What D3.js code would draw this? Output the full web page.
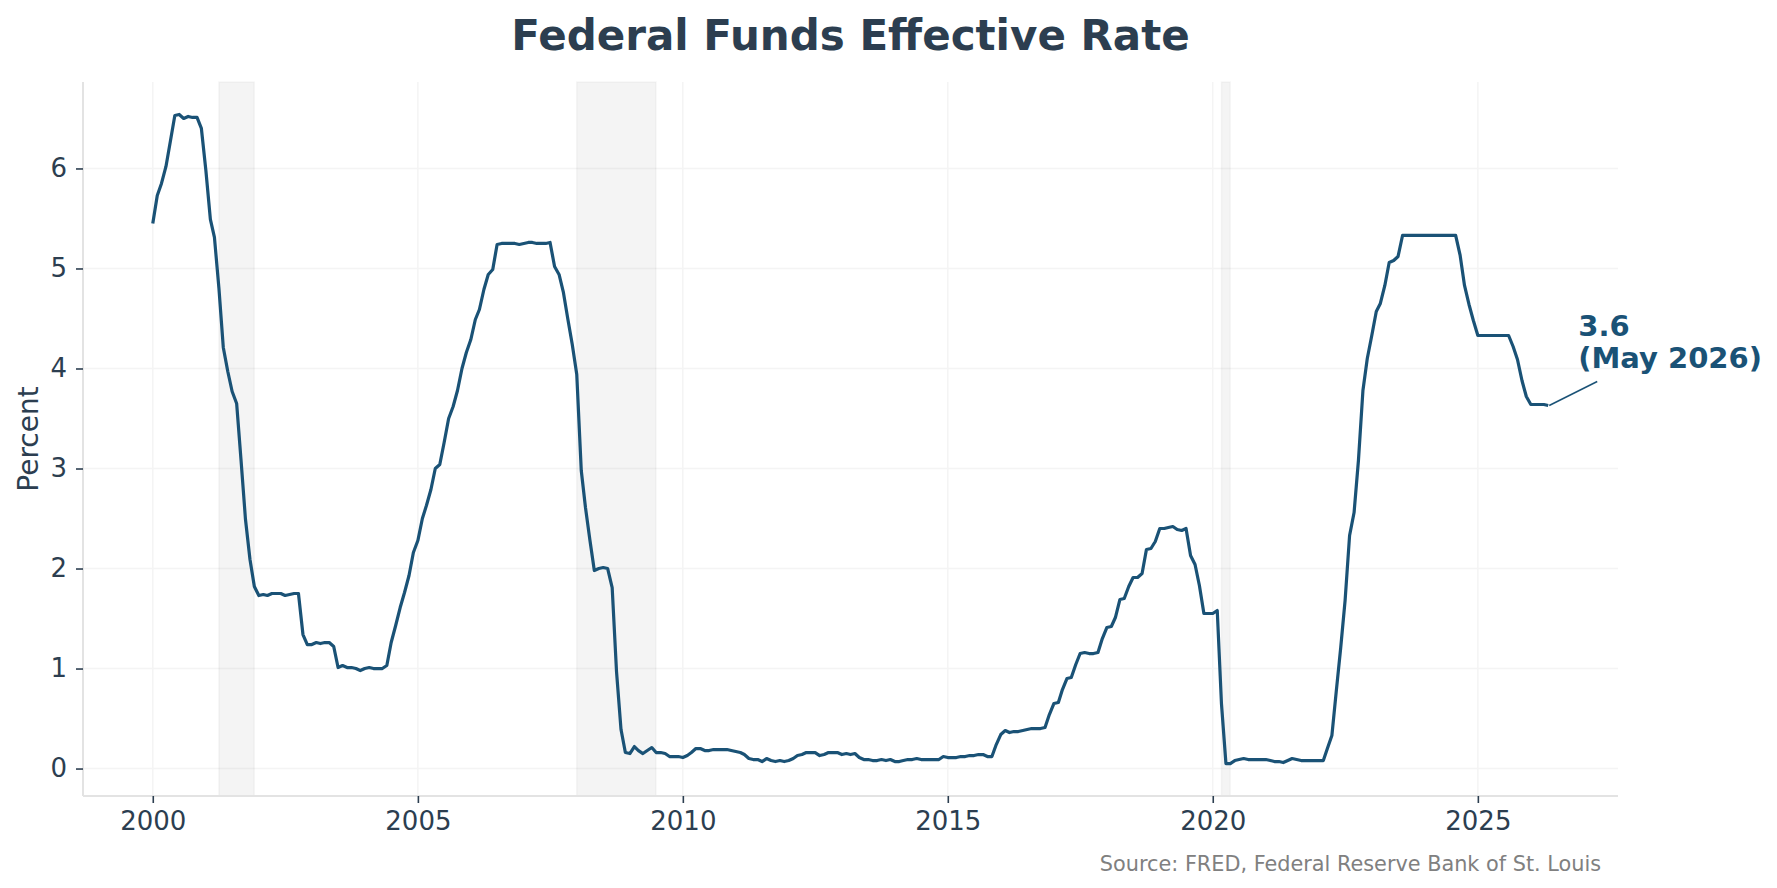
<!DOCTYPE html>
<html>
<head>
<meta charset="utf-8">
<script src="https://cdn.jsdelivr.net/npm/d3@7"></script>
<style>
  html, body { margin: 0; padding: 0; background: #ffffff; }
  svg { display: block; font-family: "DejaVu Sans", sans-serif; }
</style>
</head>
<body>
<svg id="chart" width="1777" height="888"></svg>
<script>
// ---- Data: monthly Federal Funds Effective Rate (percent), Jan 2000 .. May 2026 ----
const startMonth = "2000-01-01";
const rates = [
  // 2000
  5.45, 5.73, 5.85, 6.02, 6.27, 6.53, 6.54, 6.50, 6.52, 6.51, 6.51, 6.40,
  // 2001
  5.98, 5.49, 5.31, 4.80, 4.21, 3.97, 3.77, 3.65, 3.07, 2.49, 2.09, 1.82,
  // 2002
  1.73, 1.74, 1.73, 1.75, 1.75, 1.75, 1.73, 1.74, 1.75, 1.75, 1.34, 1.24,
  // 2003
  1.24, 1.26, 1.25, 1.26, 1.26, 1.22, 1.01, 1.03, 1.01, 1.01, 1.00, 0.98,
  // 2004
  1.00, 1.01, 1.00, 1.00, 1.00, 1.03, 1.26, 1.43, 1.61, 1.76, 1.93, 2.16,
  // 2005
  2.28, 2.50, 2.63, 2.79, 3.00, 3.04, 3.26, 3.50, 3.62, 3.78, 4.00, 4.16,
  // 2006
  4.29, 4.49, 4.59, 4.79, 4.94, 4.99, 5.24, 5.25, 5.25, 5.25, 5.25, 5.24,
  // 2007
  5.25, 5.26, 5.26, 5.25, 5.25, 5.25, 5.26, 5.02, 4.94, 4.76, 4.49, 4.24,
  // 2008
  3.94, 2.98, 2.61, 2.28, 1.98, 2.00, 2.01, 2.00, 1.81, 0.97, 0.39, 0.16,
  // 2009
  0.15, 0.22, 0.18, 0.15, 0.18, 0.21, 0.16, 0.16, 0.15, 0.12, 0.12, 0.12,
  // 2010
  0.11, 0.13, 0.16, 0.20, 0.20, 0.18, 0.18, 0.19, 0.19, 0.19, 0.19, 0.18,
  // 2011
  0.17, 0.16, 0.14, 0.10, 0.09, 0.09, 0.07, 0.10, 0.08, 0.07, 0.08, 0.07,
  // 2012
  0.08, 0.10, 0.13, 0.14, 0.16, 0.16, 0.16, 0.13, 0.14, 0.16, 0.16, 0.16,
  // 2013
  0.14, 0.15, 0.14, 0.15, 0.11, 0.09, 0.09, 0.08, 0.08, 0.09, 0.08, 0.09,
  // 2014
  0.07, 0.07, 0.08, 0.09, 0.09, 0.10, 0.09, 0.09, 0.09, 0.09, 0.09, 0.12,
  // 2015
  0.11, 0.11, 0.11, 0.12, 0.12, 0.13, 0.13, 0.14, 0.14, 0.12, 0.12, 0.24,
  // 2016
  0.34, 0.38, 0.36, 0.37, 0.37, 0.38, 0.39, 0.40, 0.40, 0.40, 0.41, 0.54,
  // 2017
  0.65, 0.66, 0.79, 0.90, 0.91, 1.04, 1.15, 1.16, 1.15, 1.15, 1.16, 1.30,
  // 2018
  1.41, 1.42, 1.51, 1.69, 1.70, 1.82, 1.91, 1.91, 1.95, 2.19, 2.20, 2.27,
  // 2019
  2.40, 2.40, 2.41, 2.42, 2.39, 2.38, 2.40, 2.13, 2.04, 1.83, 1.55, 1.55,
  // 2020
  1.55, 1.58, 0.65, 0.05, 0.05, 0.08, 0.09, 0.10, 0.09, 0.09, 0.09, 0.09,
  // 2021
  0.09, 0.08, 0.07, 0.07, 0.06, 0.08, 0.10, 0.09, 0.08, 0.08, 0.08, 0.08,
  // 2022
  0.08, 0.08, 0.20, 0.33, 0.77, 1.21, 1.68, 2.33, 2.56, 3.08, 3.78, 4.10,
  // 2023
  4.33, 4.57, 4.65, 4.83, 5.06, 5.08, 5.12, 5.33, 5.33, 5.33, 5.33, 5.33,
  // 2024
  5.33, 5.33, 5.33, 5.33, 5.33, 5.33, 5.33, 5.33, 5.13, 4.83, 4.64, 4.48,
  // 2025
  4.33, 4.33, 4.33, 4.33, 4.33, 4.33, 4.33, 4.33, 4.22, 4.09, 3.88, 3.72,
  // 2026
  3.64, 3.64, 3.64, 3.64, 3.63
];
const recessions = [
  ["2001-04-01", "2001-11-30"],
  ["2008-01-01", "2009-06-30"],
  ["2020-03-01", "2020-04-30"]
];
const xTickYears = [2000, 2005, 2010, 2015, 2020, 2025];
const yTickValues = [0, 1, 2, 3, 4, 5, 6];
const titleText = "Federal Funds Effective Rate";
const yLabelText = "Percent";
const sourceText = "Source: FRED, Federal Reserve Bank of St. Louis";
const annotationLines = ["3.6", "(May 2026)"];

// ---- Build series ----
const parse = d3.utcParse("%Y-%m-%d");
const t0 = parse(startMonth);
const dates = d3.utcMonth.range(t0, d3.utcMonth.offset(t0, rates.length));
const series = rates.map((v, i) => ({ date: dates[i], value: v }));

// ---- Layout ----
const plot = { left: 83, right: 1618, top: 82, bottom: 796 };
const lineColor = "#1a5276";
const textColor = "#2c3e50";

const svg = d3.select("#chart");

// 5% margins like matplotlib autoscale
const xExt = d3.extent(series, d => d.date);
const xSpan = xExt[1] - xExt[0];
const x = d3.scaleUtc()
  .domain([new Date(+xExt[0] - 0.05 * xSpan), new Date(+xExt[1] + 0.05 * xSpan)])
  .range([plot.left, plot.right]);
const yExt = d3.extent(series, d => d.value);
const ySpan = yExt[1] - yExt[0];
const y = d3.scaleLinear()
  .domain([yExt[0] - 0.05 * ySpan, yExt[1] + 0.05 * ySpan])
  .range([plot.bottom, plot.top]);

const xTicks = xTickYears.map(yr => new Date(Date.UTC(yr, 0, 1)));

// Grid
const grid = svg.append("g").attr("class", "grid");
grid.selectAll("line.gx").data(xTicks).join("line")
  .attr("x1", d => x(d)).attr("x2", d => x(d))
  .attr("y1", plot.top).attr("y2", plot.bottom)
  .attr("stroke", "#f4f4f4").attr("stroke-width", 1.5);
grid.selectAll("line.gy").data(yTickValues).join("line")
  .attr("x1", plot.left).attr("x2", plot.right)
  .attr("y1", d => y(d)).attr("y2", d => y(d))
  .attr("stroke", "#f4f4f4").attr("stroke-width", 1.5);

// Recession shading
svg.append("g").selectAll("rect").data(recessions).join("rect")
  .attr("x", d => x(parse(d[0])))
  .attr("width", d => x(parse(d[1])) - x(parse(d[0])))
  .attr("y", plot.top)
  .attr("height", plot.bottom - plot.top)
  .attr("fill", "#7f7f7f").attr("fill-opacity", 0.085)
  .attr("stroke", "#7f7f7f").attr("stroke-opacity", 0.06).attr("stroke-width", 1.5);

// Axes
const xAxis = d3.axisBottom(x).tickValues(xTicks).tickFormat(d3.utcFormat("%Y"))
  .tickSizeOuter(0).tickSizeInner(7).tickPadding(9);
const yAxis = d3.axisLeft(y).tickValues(yTickValues).tickFormat(d3.format("d"))
  .tickSizeOuter(0).tickSizeInner(7).tickPadding(9);

const gx = svg.append("g").attr("transform", `translate(0,${plot.bottom})`).call(xAxis);
const gy = svg.append("g").attr("transform", `translate(${plot.left},0)`).call(yAxis);
[gx, gy].forEach(g => {
  g.select(".domain").attr("stroke", "#e3e3e3").attr("stroke-width", 2);
  g.selectAll(".tick line").attr("stroke", textColor).attr("stroke-width", 1.6);
  g.selectAll(".tick text").attr("fill", textColor)
    .style("font-family", "DejaVu Sans").style("font-size", "26px");
});
gx.select(".domain").attr("d", `M${plot.left},0H${plot.right}`);
gy.select(".domain").attr("d", `M0,${plot.bottom}V${plot.top}`);

// Line
const line = d3.line().x(d => x(d.date)).y(d => y(d.value));
svg.append("path").datum(series)
  .attr("fill", "none").attr("stroke", lineColor).attr("stroke-width", 3.2)
  .attr("stroke-linejoin", "round").attr("stroke-linecap", "butt")
  .attr("d", line);

// Annotation
const last = series[series.length - 1];
const ax = x(last.date), ay = y(last.value);
const tx = ax + 30, ty = ay - 69;
svg.append("line")
  .attr("x1", ax + 1).attr("y1", ay)
  .attr("x2", tx + 19).attr("y2", ay - 24)
  .attr("stroke", lineColor).attr("stroke-width", 1.5);
const ann = svg.append("text")
  .attr("x", tx).attr("y", ty)
  .attr("fill", lineColor)
  .style("font-size", "29px").style("font-weight", "bold");
ann.selectAll("tspan").data(annotationLines).join("tspan")
  .attr("x", tx).attr("dy", (d, i) => i === 0 ? 0 : 32)
  .text(d => d);

// Title
svg.append("text")
  .attr("x", (plot.left + plot.right) / 2).attr("y", 50)
  .attr("text-anchor", "middle")
  .attr("fill", textColor)
  .style("font-size", "42px").style("font-weight", "bold")
  .text(titleText);

// Y label
svg.append("text")
  .attr("transform", `translate(38,${(plot.top + plot.bottom) / 2}) rotate(-90)`)
  .attr("text-anchor", "middle")
  .attr("fill", textColor)
  .style("font-size", "28px")
  .text(yLabelText);

// Source
svg.append("text")
  .attr("x", 1601).attr("y", 871)
  .attr("text-anchor", "end")
  .attr("fill", "#808080")
  .style("font-size", "20.8px")
  .text(sourceText);
</script>
</body>
</html>
